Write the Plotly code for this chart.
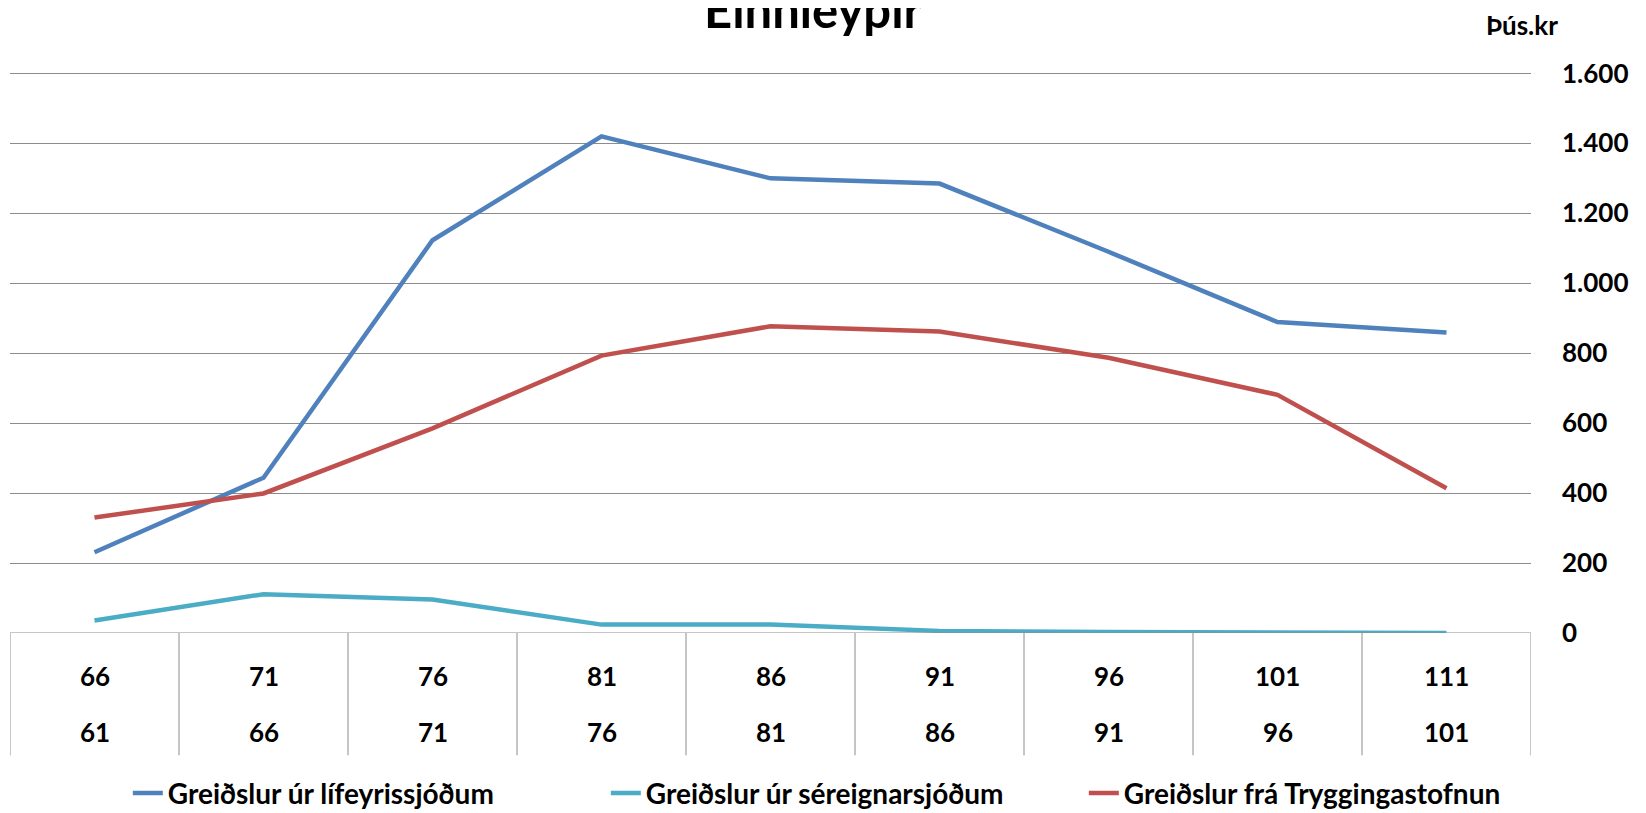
import plotly.graph_objects as go

# age groups: upper bound (top row) and lower bound (bottom row)
age_upper = ["66", "71", "76", "81", "86", "91", "96", "101", "111"]
age_lower = ["61", "66", "71", "76", "81", "86", "91", "96", "101"]

lifeyrissjodir = [231, 444, 1123, 1420, 1300, 1285, 1090, 889, 859]
sereignarsjodir = [36, 111, 96, 24, 24, 6, 3, 1, 0]
tryggingastofnun = [330, 399, 585, 793, 877, 862, 787, 681, 414]

series_names = [
    "Greiðslur úr lífeyrissjóðum",
    "Greiðslur úr séreignarsjóðum",
    "Greiðslur frá Tryggingastofnun",
]
colors = ["#4F81BD", "#4BACC6", "#C0504D"]

FONT = "Lato"
GRID = "#8C8C8C"

x = list(range(len(age_upper)))

fig = go.Figure()
for name, vals, col in zip(series_names,
                           [lifeyrissjodir, sereignarsjodir, tryggingastofnun],
                           colors):
    fig.add_trace(go.Scatter(
        x=x, y=vals, name=name, mode="lines",
        line=dict(color=col, width=4.5),
    ))

# category table under the plot
shapes = [dict(type="line", xref="x", yref="y", x0=-0.5, x1=8.5, y0=0, y1=0,
               line=dict(color=GRID, width=1))]
for b in range(len(age_upper) + 1):
    shapes.append(dict(type="line", xref="x", yref="paper", x0=b - 0.5, x1=b - 0.5,
                       y0=0, y1=-0.218, line=dict(color=GRID, width=1)))

annotations = []
for i, (u, l) in enumerate(zip(age_upper, age_lower)):
    annotations.append(dict(x=i, y=-0.076, xref="x", yref="paper", text=u,
                            showarrow=False, yanchor="middle",
                            font=dict(family=FONT, size=26, color="black", weight=700)))
    annotations.append(dict(x=i, y=-0.177, xref="x", yref="paper", text=l,
                            showarrow=False, yanchor="middle",
                            font=dict(family=FONT, size=26, color="black", weight=700)))

annotations.append(dict(x=0.528, y=1.112, xref="paper", yref="paper", text="Einhleypir",
                        showarrow=False, yanchor="middle",
                        font=dict(family=FONT, size=49, color="black", weight=700)))
annotations.append(dict(x=1.019, y=1.084, xref="paper", yref="paper", text="Þús.kr",
                        showarrow=False, yanchor="middle",
                        font=dict(family=FONT, size=26, color="black", weight=700)))

fig.update_layout(
    width=1646, height=813,
    margin=dict(l=2, r=123, t=64, b=188, autoexpand=False),
    plot_bgcolor="white", paper_bgcolor="white",
    separators=",.",
    showlegend=True,
    legend=dict(orientation="h", xref="container", x=0.0728, xanchor="left",
                yref="container", y=0.034, yanchor="middle",
                entrywidth=433, entrywidthmode="pixels",
                font=dict(family=FONT, size=28, color="black", weight=700)),
    shapes=shapes,
    annotations=annotations,
    xaxis=dict(range=[-0.5, 8.5], showticklabels=False, showgrid=False,
               zeroline=False, showline=False),
    yaxis=dict(side="right", range=[0, 1604], tickvals=[0, 200, 400, 600, 800,
               1000, 1200, 1400, 1600], tickformat=",d",
               showgrid=True, gridcolor=GRID, gridwidth=1, zeroline=False,
               showline=False, ticklabelstandoff=30,
               tickfont=dict(family=FONT, size=26, color="black", weight=700)),
)

fig.write_html("out.html")
